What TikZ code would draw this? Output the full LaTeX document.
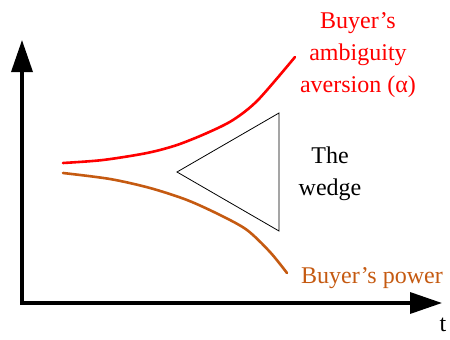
\documentclass[tikz,border=0pt]{standalone}
\usepackage{fontspec}
\setmainfont{Liberation Serif}
\usetikzlibrary{arrows.meta}

\definecolor{powerbrown}{RGB}{197,90,17}

\begin{document}
\begin{tikzpicture}[x=1pt, y=-1pt,
        axis/.style={line width=3.5pt, {Triangle[length=32pt,width=21pt]}-{Triangle[length=32pt,width=21pt]}},
        curve/.style={line width=2.6pt, line join=round, line cap=round},
        lbl/.style={inner sep=0pt, align=center, font=\fontsize{24}{32}\selectfont}]
            \useasboundingbox (0,0) rectangle (450,340);

            % osy
            \coordinate (origin) at (22,303);
            \coordinate (ytop) at (22,40);
            \coordinate (xend) at (442,303);
            \draw[axis] (ytop)--(origin)--(xend);
            \node[lbl, anchor=base] (tlabel) at (443,331) {t};

            % averze
            \draw[curve, red] plot[smooth, tension=0.5] coordinates
                {(63,163) (103,160) (147,153) (177,145) (207,133) (233,120) (258,100) (295,57)};

            % sila kupce
            \draw[curve, powerbrown] plot[smooth, tension=0.5] coordinates
                {(63,173) (110,179) (150,188) (187,200) (220,215) (247,230) (270,252) (287,273)};

            % klin
            \draw[line width=0.8pt, line join=miter] (177,172)--(279,113)--(279,231)--cycle;

            \node[lbl, red] (aversion) at (358,55) {Buyer’s\\ambiguity\\aversion (α)};
            \node[lbl] (wedge) at (330,174) {The\\wedge};
            \node[lbl, powerbrown, anchor=base] (power) at (372,283) {Buyer’s power};
        \end{tikzpicture}
\end{document}
